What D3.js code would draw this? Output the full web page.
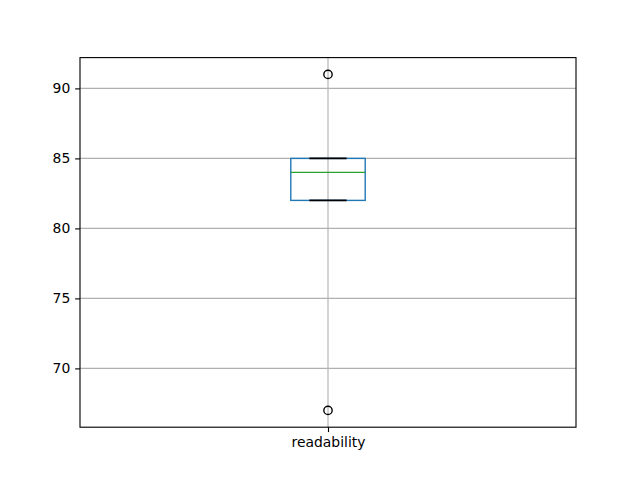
<!DOCTYPE html>
<html>
<head>
<meta charset="utf-8">
<script src="https://cdn.jsdelivr.net/npm/d3@7"></script>
<style>
  body { margin: 0; background: #fff; }
  text { font-family: "DejaVu Sans", sans-serif; font-size: 13.9px; }
</style>
</head>
<body>
<div id="chart"></div>
<script>
// box summary
var categories = ["readability"];
var q1 = [82], median = [84], q3 = [85];
var whiskerLow = [82], whiskerHigh = [85];
var outliers = [[67, 91]];
var yTicks = [70, 75, 80, 85, 90];

var W = 640, H = 480;
var pt = 100 / 72;
var margin = {left: 80, right: 64, top: 57.6, bottom: 52.8};
var width = W - margin.left - margin.right,
    height = H - margin.top - margin.bottom;

var svg = d3.select("#chart").append("svg")
  .attr("width", W).attr("height", H)
  .append("g")
  .attr("transform", `translate(${margin.left},${margin.top})`);

var x = d3.scaleLinear().domain([0.5, categories.length + 0.5]).range([0, width]);
var y = d3.scaleLinear().domain([65.8, 92.2]).range([height, 0]);

// grid
svg.append("g").selectAll("line.hgrid").data(yTicks).enter()
  .append("line")
  .attr("x1", 0).attr("x2", width)
  .attr("y1", d => y(d)).attr("y2", d => y(d))
  .attr("stroke", "#b0b0b0").attr("stroke-width", 0.8 * pt);
svg.append("g").selectAll("line.vgrid").data(categories).enter()
  .append("line")
  .attr("x1", (d, i) => x(i + 1)).attr("x2", (d, i) => x(i + 1))
  .attr("y1", 0).attr("y2", height)
  .attr("stroke", "#b0b0b0").attr("stroke-width", 0.8 * pt);

var boxW = x(1.075) - x(0.925);
var capW = boxW / 2;

categories.forEach(function(c, i) {
  var cx = x(i + 1);
  var g = svg.append("g");
  // whiskers
  g.append("line").attr("x1", cx).attr("x2", cx)
    .attr("y1", y(q1[i])).attr("y2", y(whiskerLow[i]))
    .attr("stroke", "#000").attr("stroke-width", pt);
  g.append("line").attr("x1", cx).attr("x2", cx)
    .attr("y1", y(q3[i])).attr("y2", y(whiskerHigh[i]))
    .attr("stroke", "#000").attr("stroke-width", pt);
  // box
  g.append("rect")
    .attr("x", cx - boxW / 2).attr("width", boxW)
    .attr("y", y(q3[i])).attr("height", y(q1[i]) - y(q3[i]))
    .attr("fill", "none").attr("stroke", "#1f77b4").attr("stroke-width", pt);
  // caps
  [whiskerLow[i], whiskerHigh[i]].forEach(function(v) {
    g.append("line").attr("x1", cx - capW / 2).attr("x2", cx + capW / 2)
      .attr("y1", y(v)).attr("y2", y(v))
      .attr("stroke", "#000").attr("stroke-width", 1.4 * pt);
  });
  // median
  g.append("line").attr("x1", cx - boxW / 2).attr("x2", cx + boxW / 2)
    .attr("y1", y(median[i])).attr("y2", y(median[i]))
    .attr("stroke", "#2ca02c").attr("stroke-width", pt);
  // fliers
  g.selectAll("circle").data(outliers[i]).enter()
    .append("circle")
    .attr("cx", cx).attr("cy", d => y(d)).attr("r", 3 * pt)
    .attr("fill", "none").attr("stroke", "#000").attr("stroke-width", pt);
});

// axes
var yAxis = d3.axisLeft(y).tickValues(yTicks).tickSize(3.5 * pt).tickPadding(3.5 * pt);
svg.append("g").attr("class", "y axis").call(yAxis)
  .call(g => g.select(".domain").remove());
var xAxis = d3.axisBottom(x).tickValues(categories.map((c, i) => i + 1))
  .tickFormat((d, i) => categories[i]).tickSize(3.5 * pt).tickPadding(3.5 * pt);
svg.append("g").attr("class", "x axis")
  .attr("transform", `translate(0,${height})`).call(xAxis)
  .call(g => g.select(".domain").remove());
svg.selectAll(".axis text").style("font-size", "13.9px").attr("fill", "#000")
  .style("font-family", "'DejaVu Sans', sans-serif");
svg.selectAll(".axis line").attr("stroke", "#000").attr("stroke-width", 0.8 * pt);

// frame
svg.append("rect").attr("width", width).attr("height", height)
  .attr("fill", "none").attr("stroke", "#000").attr("stroke-width", 0.8 * pt);
</script>
</body>
</html>
